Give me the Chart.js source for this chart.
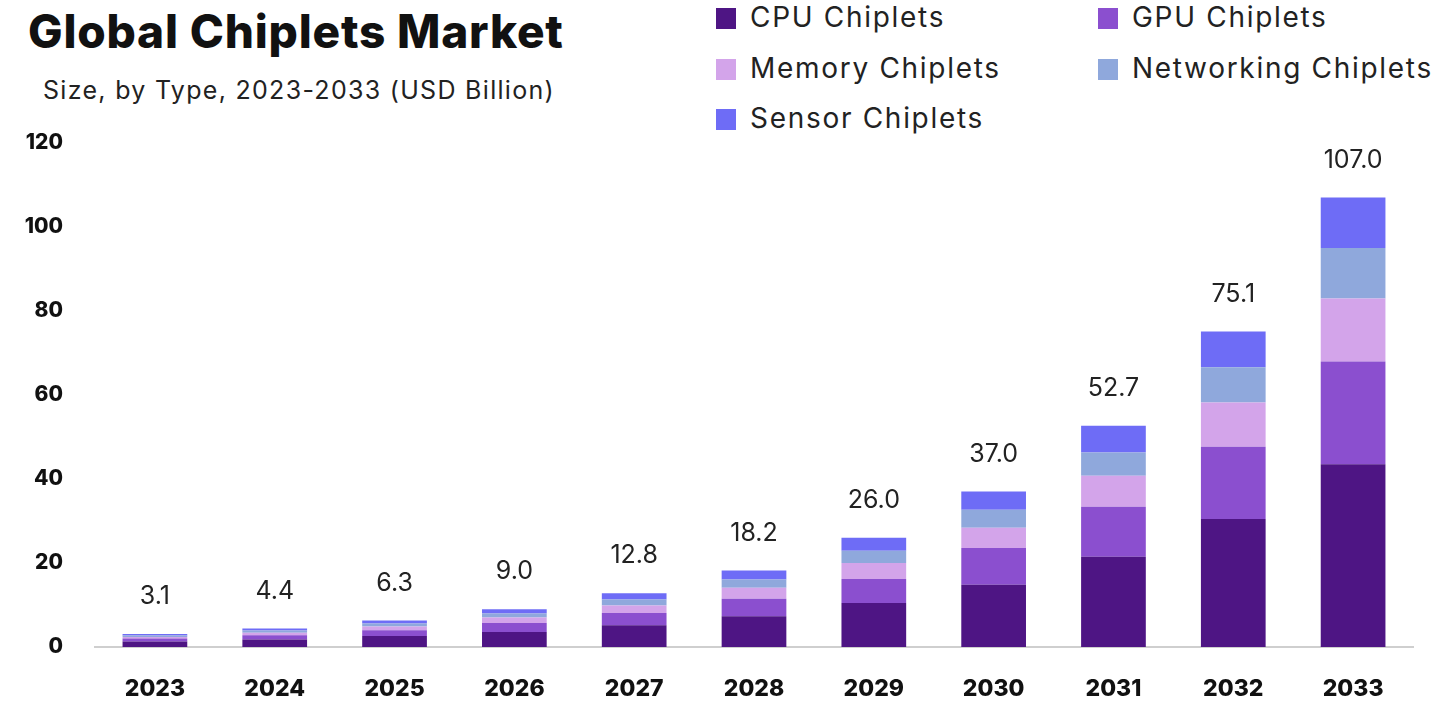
<!DOCTYPE html>
<html>
<head>
<meta charset="utf-8">
<title>Global Chiplets Market</title>
<script src="https://cdn.jsdelivr.net/npm/chart.js@4"></script>
<style>
  html, body { margin:0; padding:0; background:#fff; }
  body { width:1448px; height:716px; position:relative; overflow:hidden; font-family:"Inter","Open Sans",sans-serif; color:#111; }
  #title { position:absolute; left:28px; top:3px; font-size:46px; font-weight:800; letter-spacing:0.8px; }
  #subtitle { position:absolute; left:43px; top:75px; font-size:25px; color:#222; letter-spacing:1.3px; }
  #legend { position:absolute; left:716px; top:0; }
  .item { position:absolute; white-space:nowrap; font-size:28px; color:#222; letter-spacing:1.7px; }
  .item span.box { position:absolute; left:0; width:20px; height:21px; }
  .item span.lbl { position:absolute; left:34px; top:-18px; }
  #wrap { position:absolute; left:0; top:0; width:1448px; height:716px; }
</style>
</head>
<body>
<div id="title">Global Chiplets Market</div>
<div id="subtitle">Size, by Type, 2023-2033 (USD Billion)</div>
<div id="legend"></div>
<div id="wrap"><canvas id="chipChart"></canvas></div>
<script>
// chiplets market - stacked bars by type
const years = ['2023','2024','2025','2026','2027','2028','2029','2030','2031','2032','2033'];
const seriesNames = ['CPU Chiplets','GPU Chiplets','Memory Chiplets','Networking Chiplets','Sensor Chiplets'];
const seriesColors = ['#4e1584','#8b4fcf','#d3a4ea','#8fa8dc','#6e6cf6'];
const cpu        = [1.3, 1.8, 2.6, 3.6, 5.2, 7.3, 10.5, 14.8, 21.5, 30.5, 43.5];
const gpu        = [0.7, 1.0, 1.4, 2.1, 2.9, 4.2,  5.7,  8.8, 11.9, 17.2, 24.5];
const memory     = [0.4, 0.6, 0.9, 1.3, 1.8, 2.6,  3.8,  4.8,  7.4, 10.5, 15.0];
const networking = [0.35,0.5, 0.7, 1.0, 1.4, 2.0,  2.9,  4.3,  5.5,  8.4, 12.0];
const sensor     = [0.35,0.5, 0.7, 1.0, 1.5, 2.1,  3.1,  4.3,  6.4,  8.5, 12.0];
const totals     = ['3.1','4.4','6.3','9.0','12.8','18.2','26.0','37.0','52.7','75.1','107.0'];
const yTicks     = [0, 20, 40, 60, 80, 100, 120];

const values = [cpu, gpu, memory, networking, sensor];

// legend: 2 columns, 3 rows, top right
const legendPos = [[0,18],[382,18],[0,69],[382,69],[0,119]];
const legendEl = document.getElementById('legend');
seriesNames.forEach((n,i)=>{
  const d = document.createElement('div');
  d.className = 'item';
  d.style.left = legendPos[i][0] + 'px';
  d.style.top = legendPos[i][1] + 'px';
  d.innerHTML = '<span class="box" style="top:-10px;background:'+seriesColors[i]+'"></span><span class="lbl">'+n+'</span>';
  legendEl.appendChild(d);
});

const totalLabels = {
  id: 'totalLabels',
  afterDatasetsDraw(chart){
    const ctx = chart.ctx;
    const meta = chart.getDatasetMeta(seriesNames.length - 1);
    ctx.save();
    ctx.font = '400 25px Inter, "Open Sans", sans-serif';
    ctx.fillStyle = '#222';
    ctx.textAlign = 'center';
    ctx.textBaseline = 'bottom';
    meta.data.forEach((bar,i)=>{
      ctx.fillText(totals[i], bar.x, bar.y - 25);
    });
    ctx.restore();
  }
};

const ctx = document.getElementById('chipChart').getContext('2d');
new Chart(ctx, {
  type: 'bar',
  data: {
    labels: years,
    datasets: seriesNames.map((n,i)=>({
      label: n,
      data: values[i],
      backgroundColor: seriesColors[i],
      borderWidth: 0,
      barPercentage: 0.9,
      categoryPercentage: 0.6
    }))
  },
  options: {
    responsive: true,
    maintainAspectRatio: false,
    animation: false,
    layout: { padding: { top: 143, right: 35, left: 0, bottom: 0 } },
    plugins: { legend: { display: false }, tooltip: { enabled: false } },
    scales: {
      x: {
        stacked: true,
        grid: { display: false, drawTicks: false },
        border: { display: true, color: '#cfcfcf', width: 2 },
        ticks: { color: '#111', padding: 28, font: { family: 'Inter', size: 23, weight: '800' } },
        afterFit(scale){ scale.height = 69; }
      },
      y: {
        stacked: true,
        min: 0, max: 120,
        afterBuildTicks(scale){ scale.ticks = yTicks.map(v=>({value:v})); },
        grid: { display: false, drawTicks: false },
        border: { display: false },
        ticks: { color: '#111', padding: 32, font: { family: 'Inter', size: 21, weight: '800' } },
        afterFit(scale){ scale.width = 95; }
      }
    }
  },
  plugins: [totalLabels]
});
</script>
</body>
</html>
